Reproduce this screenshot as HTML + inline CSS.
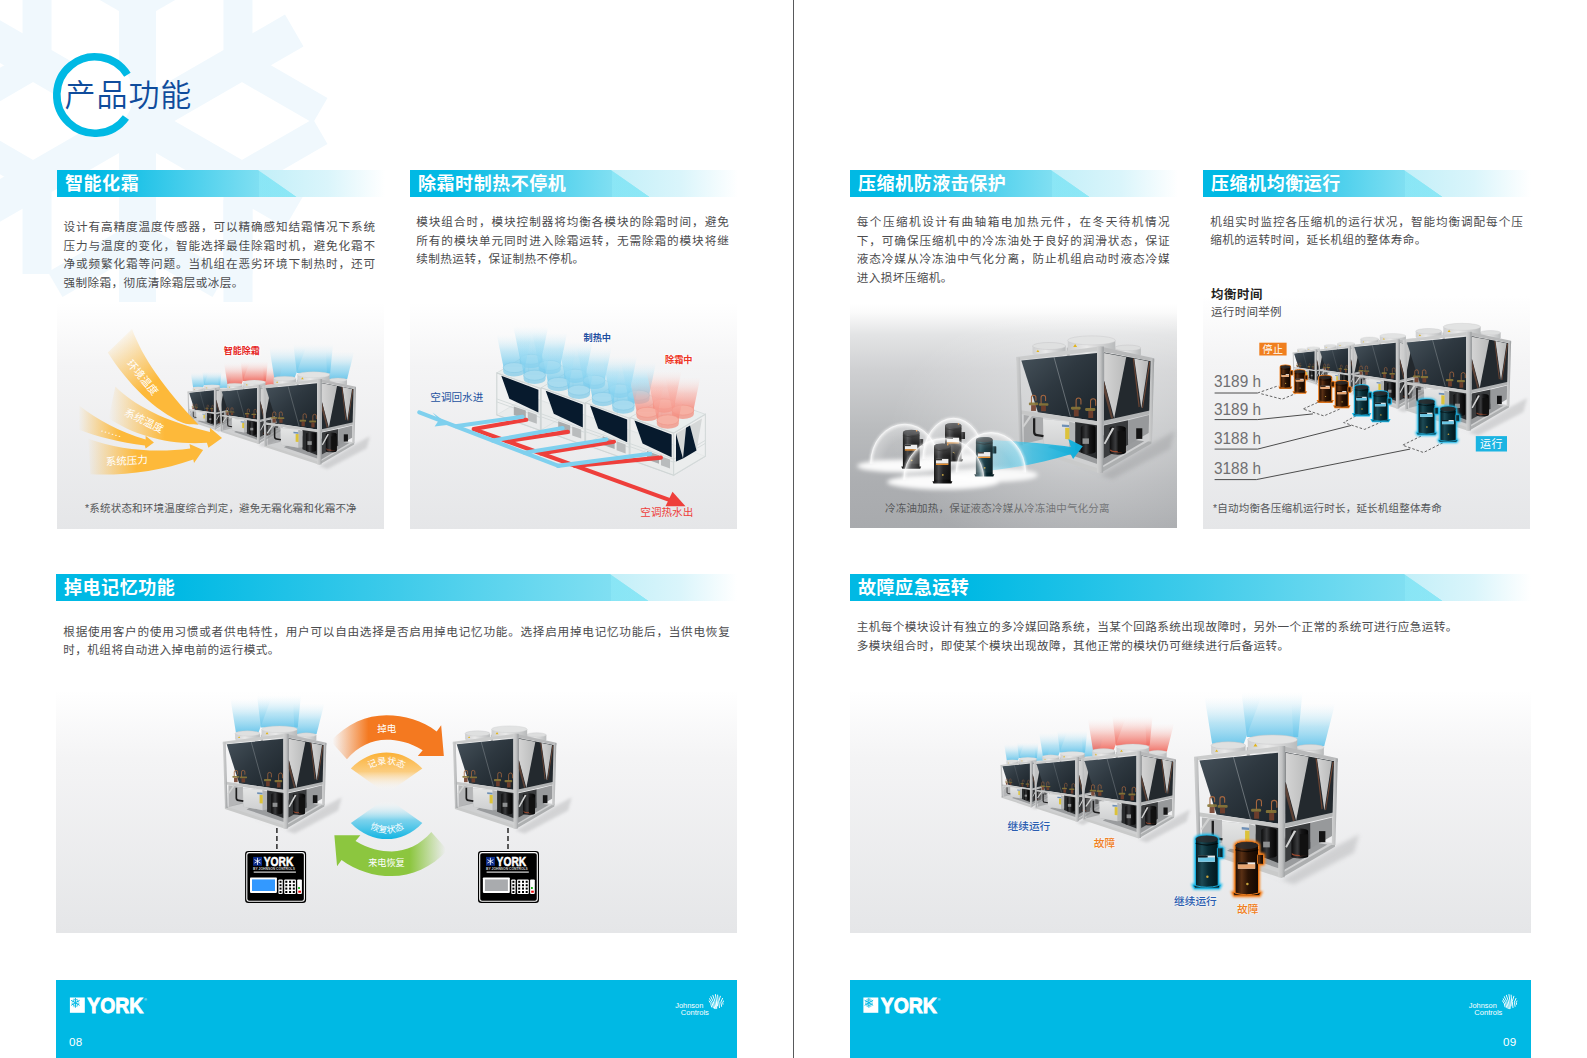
<!DOCTYPE html>
<html lang="zh-CN">
<head>
<meta charset="utf-8">
<title>产品功能</title>
<style>
html,body{margin:0;padding:0;background:#fff;}
body{width:1587px;height:1058px;position:relative;overflow:hidden;
  font-family:"Liberation Sans","Noto Sans CJK SC",sans-serif;color:#4b4b4d;}
.abs{position:absolute;}
#divider{position:absolute;left:793px;top:0;width:1px;height:1058px;background:#58595b;}
.bar{position:absolute;height:27px;}
.bar:before{content:"";position:absolute;left:0;top:0;bottom:0;right:88px;
  background:linear-gradient(to right,rgba(150,238,250,0) calc(100% - 38px),rgba(150,238,250,0.45) calc(100% - 38px)),linear-gradient(to right,#00b9e4 0,#00b9e4 16%,#80dff2 calc(100% - 38px),#86e2f3 100%);
  clip-path:polygon(0 0,calc(100% - 38px) 0,100% 100%,0 100%);}
.bar:after{content:"";position:absolute;top:0;bottom:0;right:0;width:127px;
  background:linear-gradient(to right,#c2eff8 0,#daf5fb 55%,#ffffff 100%);
  clip-path:polygon(0 0,100% 0,100% 100%,39px 100%);}
.bar.wide:before{background:linear-gradient(to right,rgba(150,238,250,0) calc(100% - 38px),rgba(150,238,250,0.4) calc(100% - 38px)),linear-gradient(to right,#00b9e4 0,#00b9e4 20%,#3fcbea 58%,#80dff2 calc(100% - 38px),#86e2f3 100%);}
.bar span{position:absolute;left:8px;top:1.1px;line-height:27px;font-size:18px;font-weight:700;color:#fff;
  letter-spacing:0.55px;z-index:2;white-space:nowrap;}
.txt{position:absolute;font-size:11.6px;line-height:18.63px;color:#4b4b4d;white-space:nowrap;}
.txt div{text-align:justify;text-align-last:justify;}
.txt div.l{text-align-last:left;letter-spacing:0.43px;}
.box{position:absolute;background:linear-gradient(to bottom,#ffffff 0,#f4f4f5 28%,#e5e6e8 100%);}
.box.dark{background:linear-gradient(to bottom,#ffffff 0,#fbfbfb 4%,#e3e4e5 14%,#cfd0d2 30%,#babcbe 55%,#acaeb1 80%,#a8aaad 100%);}
.cap{position:absolute;font-size:10.5px;color:#555759;white-space:nowrap;letter-spacing:0.2px;}
.lbl{position:absolute;white-space:nowrap;font-size:10px;}
.foot{position:absolute;top:980px;height:78px;width:681px;background:#00b9e4;}
.pg{position:absolute;top:1034.6px;font-size:11.6px;color:#fff;letter-spacing:0.2px;}
svg{position:absolute;left:0;top:0;overflow:visible;}
svg text{font-family:"Liberation Sans","Noto Sans CJK SC",sans-serif;}
</style>
</head>
<body>
<svg width="0" height="0" style="position:absolute">
<defs>
<linearGradient id="gCoil" x1="0" y1="0" x2="1" y2="1">
  <stop offset="0" stop-color="#46525b"/><stop offset="0.45" stop-color="#2e3840"/><stop offset="1" stop-color="#1b2329"/>
</linearGradient>
<linearGradient id="gPost" x1="0" y1="0" x2="1" y2="0">
  <stop offset="0" stop-color="#d0d1d1"/><stop offset="0.55" stop-color="#c0c1c2"/><stop offset="1" stop-color="#979a9c"/>
</linearGradient>
<linearGradient id="gFan" x1="0" y1="0" x2="1" y2="0">
  <stop offset="0" stop-color="#cfd0d1"/><stop offset="0.4" stop-color="#e9e9e9"/><stop offset="1" stop-color="#b9bbbc"/>
</linearGradient>
<linearGradient id="gVee" x1="0" y1="0" x2="1" y2="0">
  <stop offset="0" stop-color="#d4d4d4"/><stop offset="1" stop-color="#b9baba"/>
</linearGradient>
<linearGradient id="gBox" x1="0" y1="0" x2="0" y2="1">
  <stop offset="0" stop-color="#e4e5e5"/><stop offset="1" stop-color="#cfd0d1"/>
</linearGradient>
<linearGradient id="gComp" x1="0" y1="0" x2="1" y2="0">
  <stop offset="0" stop-color="#0c0c0d"/><stop offset="0.35" stop-color="#3a3b3d"/><stop offset="0.6" stop-color="#161617"/><stop offset="1" stop-color="#050505"/>
</linearGradient>
<filter id="blur8" x="-30%" y="-30%" width="160%" height="160%"><feGaussianBlur stdDeviation="14"/></filter>
<filter id="blur3" x="-30%" y="-30%" width="160%" height="160%"><feGaussianBlur stdDeviation="5"/></filter>


<linearGradient id="gPlB" x1="0" y1="1" x2="0" y2="0">
  <stop offset="0" stop-color="#62c3ea" stop-opacity="0.9"/><stop offset="0.45" stop-color="#8fd6f1" stop-opacity="0.6"/><stop offset="1" stop-color="#d8f1fb" stop-opacity="0"/>
</linearGradient>
<linearGradient id="gPlR" x1="0" y1="1" x2="0" y2="0">
  <stop offset="0" stop-color="#f0655a" stop-opacity="0.9"/><stop offset="0.45" stop-color="#f59a90" stop-opacity="0.6"/><stop offset="1" stop-color="#fde0dc" stop-opacity="0"/>
</linearGradient>
<symbol id="plB" viewBox="0 0 1120 1058" overflow="visible">
  <g fill="url(#gPlB)">
  <path d="M211 150L400 150L504 -130L166 -130Z"/>
  <path d="M699 165L881 165L946 -91L686 -91Z"/>
  <path d="M419 110L725 110L751 -156L387 -156Z"/>
  </g>
</symbol>
<symbol id="plR" viewBox="0 0 1120 1058" overflow="visible">
  <g fill="url(#gPlR)">
  <path d="M211 150L400 150L504 -130L166 -130Z"/>
  <path d="M699 165L881 165L946 -91L686 -91Z"/>
  <path d="M419 110L725 110L751 -156L387 -156Z"/>
  </g>
</symbol>

<linearGradient id="gFpB" gradientUnits="userSpaceOnUse" x1="0" y1="0" x2="0" y2="-33">
  <stop offset="0" stop-color="#6cc7ec" stop-opacity="0.85"/><stop offset="0.5" stop-color="#9adbf3" stop-opacity="0.55"/><stop offset="1" stop-color="#d8f1fb" stop-opacity="0"/>
</linearGradient>
<linearGradient id="gFpR" gradientUnits="userSpaceOnUse" x1="0" y1="0" x2="0" y2="-33">
  <stop offset="0" stop-color="#f48476" stop-opacity="0.85"/><stop offset="0.5" stop-color="#f8aaa0" stop-opacity="0.55"/><stop offset="1" stop-color="#fde0dc" stop-opacity="0"/>
</linearGradient>
<g id="fanB"><path d="M-10.6 0L10.6 0L17.5 -33L-17.5 -33Z" fill="url(#gFpB)"/><path d="M-11 0v3.8a11 5 0 0 0 22 0v-3.8z" fill="#8fcfe9" opacity="0.85"/><ellipse cx="0" cy="0" rx="11" ry="5" fill="#a9dcf0" stroke="#7cc4e2" stroke-width="0.5" opacity="0.9"/></g>
<g id="fanR"><path d="M-10.6 0L10.6 0L17.5 -33L-17.5 -33Z" fill="url(#gFpR)"/><path d="M-11 0v3.8a11 5 0 0 0 22 0v-3.8z" fill="#f19a8c" opacity="0.85"/><ellipse cx="0" cy="0" rx="11" ry="5" fill="#f7b3a6" stroke="#ee8f80" stroke-width="0.5" opacity="0.9"/></g>
<g id="modBase">
  <path d="M0 0L43.6 15.6L75.4 -3.3L31.8 -18.9Z" fill="#e9eeee" stroke="#cdd4d4" stroke-width="0.6"/>
  <path d="M0 42L31.8 23.1L75.4 38.7L43.6 57.6Z" fill="#e4e7e7" fill-opacity="0.7" stroke="#d3d9d9" stroke-width="0.8"/><path d="M31.8 -18.9V23.1" stroke="#d3d9d9" stroke-width="0.8"/><path d="M0 0L43.6 15.6L43.6 57.6L0 42Z" fill="#eef0f0" fill-opacity="0.35" stroke="#cfd5d5" stroke-width="1.1"/>
  <path d="M0 26L43.6 41.6M0 29L43.6 44.6" stroke="#d3d9d9" stroke-width="0.9" fill="none"/>
  <path d="M17 33.5l12 4.2v8.5l-12-4.2z" fill="#a9acad"/><path d="M31 38.6l9 3.2v9l-9-3.2z" fill="#b9bcbd"/>
  <path d="M4.5 2.9L41.6 16.8L41.6 39.6L12.6 25.9Z" fill="#071a2d"/>
</g>
<g id="modB"><use href="#modBase"/><use href="#fanB" x="34" y="-13.6"/><use href="#fanB" x="52.9" y="-7.5"/><use href="#fanB" x="17.4" y="-5.3"/><use href="#fanB" x="37.8" y="2.3"/></g>
<g id="modR"><use href="#modBase"/><use href="#fanR" x="34" y="-13.6"/><use href="#fanR" x="52.9" y="-7.5"/><use href="#fanR" x="17.4" y="-5.3"/><use href="#fanR" x="37.8" y="2.3"/></g>

<!-- compressor: 16.8 x 39.5 px -->
<linearGradient id="gCmp" x1="0" y1="0" x2="1" y2="0">
  <stop offset="0" stop-color="#060606"/><stop offset="0.28" stop-color="#3c3d3f"/><stop offset="0.55" stop-color="#151516"/><stop offset="1" stop-color="#020202"/>
</linearGradient>
<linearGradient id="gCmpT" x1="0" y1="0" x2="1" y2="0">
  <stop offset="0" stop-color="#041c23"/><stop offset="0.28" stop-color="#1d4a55"/><stop offset="0.55" stop-color="#0a2d36"/><stop offset="1" stop-color="#02161b"/>
</linearGradient>
<linearGradient id="gCmpO" x1="0" y1="0" x2="1" y2="0">
  <stop offset="0" stop-color="#1c0b02"/><stop offset="0.28" stop-color="#5a3014"/><stop offset="0.55" stop-color="#2a1305"/><stop offset="1" stop-color="#120701"/>
</linearGradient>
<filter id="glow" x="-40%" y="-20%" width="180%" height="140%"><feGaussianBlur stdDeviation="0.9"/></filter>
<g id="cmpShape">
  <path d="M-1.6 37.3L18.4 37.3L17.4 39.5L-0.6 39.5Z"/>
  <path d="M0 3.2Q0 0.2 8.4 0.2Q16.8 0.2 16.8 3.2L16.8 37.6Q8.4 40 0 37.6Z"/>
  <rect x="16.2" y="9.5" width="4.2" height="7.2" rx="0.6"/>
</g>
<g id="cmpDeco">
  <ellipse cx="8.4" cy="3" rx="8.3" ry="2.6" fill="#2c2d2f" opacity="0.8"/>
  <path d="M0 6.2Q8.4 8.8 16.8 6.2" stroke="#000" stroke-width="0.8" fill="none" opacity="0.7"/>
  <rect x="2" y="15.3" width="12.4" height="4.6" fill="#ebebeb"/>
  <rect x="2" y="15.3" width="6" height="1.4" fill="#222"/>
  <circle cx="8.8" cy="31" r="0.9" fill="#c7a23a"/>
</g>
<g id="cmp"><use href="#cmpShape" fill="url(#gCmp)"/><use href="#cmpDeco"/><rect x="2" y="19.9" width="12.4" height="1.3" fill="#f08a1c"/><circle cx="13.8" cy="1.3" r="0.8" fill="#f08a1c"/></g>
<g id="cmpT"><use href="#cmpShape" fill="url(#gCmpT)"/><use href="#cmpDeco"/><rect x="2" y="19.9" width="12.4" height="1.3" fill="#f08a1c"/></g>
<g id="cmpB"><use href="#cmpShape" fill="#1bbcec" stroke="#1bbcec" stroke-width="2.2" filter="url(#glow)"/><use href="#cmpShape" fill="url(#gCmpT)" stroke="#19b4e4" stroke-width="0.7"/><use href="#cmpDeco"/><rect x="2" y="16.6" width="12.4" height="3.2" fill="#6cc6e4"/><rect x="2" y="15.3" width="7" height="1.4" fill="#0c1c22"/></g>
<g id="cmpO"><use href="#cmpShape" fill="#f58220" stroke="#f58220" stroke-width="2.2" filter="url(#glow)"/><use href="#cmpShape" fill="url(#gCmpO)" stroke="#ef7d1c" stroke-width="0.7"/><use href="#cmpDeco"/><rect x="2" y="16.6" width="12.4" height="3.2" fill="#e8a672"/><rect x="2" y="15.3" width="7" height="1.4" fill="#1c0e06"/></g>

<!-- controller 61 x 52 -->
<g id="ctrl">
  <rect x="0" y="0" width="61" height="52" rx="3.2" fill="#000"/>
  <rect x="1.7" y="1.7" width="57.6" height="48.6" rx="2.4" fill="none" stroke="#fff" stroke-width="1.1"/>
  <rect x="8" y="6" width="8.9" height="8.9" fill="#0c2d8c"/>
  <g stroke="#fff" stroke-width="0.8" stroke-linecap="round"><path d="M12.4 7.3v6.3M9.7 8.9l5.4 3.1M9.7 12l5.4-3.1"/></g>
  <text x="18.6" y="14.9" font-size="12.4" font-weight="700" fill="#fff" textLength="29.6" lengthAdjust="spacingAndGlyphs" stroke="#fff" stroke-width="0.5">YORK</text>
  <text x="8" y="19.2" font-size="3.1" font-weight="700" fill="#cfcfcf" textLength="41.8" lengthAdjust="spacingAndGlyphs">BY JOHNSON CONTROLS</text>
  <rect x="8.6" y="20.4" width="42.2" height="1.7" fill="#9b9b9b"/>
  <rect x="4.9" y="26.5" width="26.9" height="15.5" rx="0.8" fill="#fff"/>
  <rect x="33.3" y="28.5" width="4.3" height="14.5" rx="0.9" fill="#fff"/>
  <rect x="39.1" y="28.5" width="11.7" height="14.5" rx="0.9" fill="#fff"/>
  <rect x="52.1" y="28.5" width="4.7" height="14.5" rx="0.9" fill="#fff"/>
  <g fill="#000">
    <rect x="34.4" y="29.9" width="2" height="2"/><rect x="34.4" y="33.3" width="2" height="2"/><rect x="34.4" y="36.7" width="2" height="2"/><rect x="34.4" y="40.1" width="2" height="2"/>
    <rect x="40.2" y="29.9" width="2" height="2"/><rect x="40.2" y="33.3" width="2" height="2"/><rect x="40.2" y="36.7" width="2" height="2"/><rect x="40.2" y="40.1" width="2" height="2"/>
    <rect x="44" y="29.9" width="2" height="2"/><rect x="44" y="33.3" width="2" height="2"/><rect x="44" y="36.7" width="2" height="2"/><rect x="44" y="40.1" width="2" height="2"/>
    <rect x="47.7" y="29.9" width="2" height="2"/><rect x="47.7" y="33.3" width="2" height="2"/><rect x="47.7" y="36.7" width="2" height="2"/><rect x="47.7" y="40.1" width="2" height="2"/>
  </g>
  <rect x="53" y="36.2" width="1.8" height="1.8" fill="#0a0"/><rect x="53.2" y="39.8" width="2.6" height="2" fill="#e00"/>
</g>

<!-- footer logos (origin = left page coords) -->
<clipPath id="jcClip"><circle cx="0" cy="0" r="7.8"/></clipPath>
<g id="yorkLogo">
  <rect x="69.9" y="997.5" width="14.9" height="15.3" fill="#fff"/>
  <g stroke="#00b9e4" stroke-width="1" stroke-linecap="round" fill="none">
    <path d="M75.4 998.3v9M71.5 1000.5l7.8 4.6M71.5 1005.1l7.8-4.6"/>
    <path d="M74 999.2l1.4 1.3 1.4-1.3M74 1006.4l1.4-1.3 1.4 1.3M72 1002l1.9-.4-.5-1.9M78.9 1003.7l-1.9.4.5 1.9M72 1003.7l1.9.4-.5 1.9M78.9 1002l-1.9-.4.5-1.9" stroke-width="0.7"/>
  </g>
  <text x="87.2" y="1012.6" font-size="21.4" font-weight="700" fill="#fff" stroke="#fff" stroke-width="0.9" textLength="56.2" lengthAdjust="spacingAndGlyphs">YORK</text>
  <text x="144.3" y="1001.2" font-size="3.6" fill="#fff">®</text>
</g>
<g id="jcLogo" fill="#fff">
  <text x="675.3" y="1007.9" font-size="8.1" textLength="28" lengthAdjust="spacingAndGlyphs">Johnson</text>
  <text x="680.8" y="1015.1" font-size="8.1" textLength="28.1" lengthAdjust="spacingAndGlyphs">Controls</text>
  <g transform="translate(716.3,1001.8)" clip-path="url(#jcClip)">
    <g fill="none" stroke="#fff" stroke-width="0.95">
      <path d="M-7.8 -1.6Q-5 1 -4.6 5.6"/><path d="M-7.4 -4Q-3.6 0 -2.8 6.4"/><path d="M-6 -6Q-2.2 -1 -1.5 7.2"/><path d="M-3.8 -7.4Q-0.8 -1.5 -0.4 7.4"/>
      <path d="M-1 -8Q0.6 -1 0.4 7"/><path d="M1.3 -7.2Q2.2 -2 1.1 4.6"/>
      <path d="M4.2 -6Q1.2 -0.6 3.2 6.2"/><path d="M6.4 -3.8Q3.2 0.2 5.4 5"/><path d="M7.6 -1.4Q5.6 0.6 6.9 3"/>
    </g>
  </g>
</g>
<!-- chiller unit; coordinates are 6.222x real px of the largest instance -->
<symbol id="unit" viewBox="0 0 1120 1058" overflow="visible">
  <!-- ground shadow -->
  <path d="M150 800L625 965L960 760L1090 690L1060 800L700 990Z" fill="#6f7173" opacity="0.22" filter="url(#blur8)"/>
  <!-- floor -->
  <path d="M130 772L470 680L940 745L625 940Z" fill="#cfd0d1"/>
  <path d="M470 690L900 752L640 905L300 790Z" fill="#9a9c9e"/>
  <!-- back posts / rails -->
  <path d="M418 170h18v420h-18z" fill="#b9babb"/>
  <!-- fans -->
  <path d="M205 160v45a103 22 0 0 0 206 0v-45z" fill="url(#gFan)"/>
  <ellipse cx="308" cy="160" rx="103" ry="22" fill="#dfe0e0" stroke="#c4c5c6" stroke-width="3"/>
  <path d="M715 172v42a82 18 0 0 0 164 0v-42z" fill="url(#gFan)"/>
  <ellipse cx="797" cy="172" rx="82" ry="18" fill="#dddede" stroke="#c4c5c6" stroke-width="3"/>
  <path d="M424 125v62a148 28 0 0 0 296 0v-62z" fill="url(#gFan)"/>
  <ellipse cx="572" cy="125" rx="148" ry="28" fill="#e2e3e3" stroke="#c8c9ca" stroke-width="3"/>
  <path d="M470 148l12 18h-24z M238 184l9 14h-18z" fill="#e2b41c"/>
  <!-- interior dark (lower section) -->
  <path d="M470 625L625 645L625 870L470 810Z" fill="#2a2c2e"/><path d="M648 655L800 622L800 775L648 858Z" fill="#3a3c3e"/><path d="M800 622L930 590L930 700L800 775Z" fill="#97999b"/>
  <path d="M150 590L270 605L270 740L150 770Z" fill="#8d8f91" opacity="0.6"/>
  <!-- right face: white vee plates and dark coils -->
  <path d="M648 200L945 255L945 570L648 640Z" fill="#23292e"/>
  <path d="M650 203L788 228L713 610L650 375Z" fill="url(#gVee)"/>
  <path d="M838 238L926 255L882 548Z" fill="url(#gVee)"/>
  <path d="M650 378L706 608L694 613L650 450Z" fill="#5d4236"/>
  <path d="M829 236l7 2 36 300-7 3z M931 257l7 2-46 288-6-2z" fill="#6e4634"/>
  <!-- front coil -->
  <path d="M135 250L606 203L606 628L238 572Z" fill="url(#gCoil)"/>
  <path d="M338 228L440 598" stroke="#aab0b4" stroke-width="3" fill="none"/>
  <!-- copper valves -->
  <g fill="none" stroke="#a5663f" stroke-width="6.5">
    <path d="M198 520v-40a14 14 0 0 1 28 0v20"/><path d="M258 522v-42a14 14 0 0 1 28 0v22"/>
    <path d="M476 548v-50a15 15 0 0 1 30 0v26"/><path d="M566 556v-52a16 16 0 0 1 32 0v28"/>
  </g>
  <g fill="#8a7838" opacity="0.9">
    <rect x="182" y="512" width="58" height="16" rx="6"/><rect x="244" y="516" width="60" height="16" rx="6"/>
    <rect x="444" y="538" width="60" height="18" rx="7"/><rect x="532" y="546" width="64" height="18" rx="7"/>
  </g>
  <g fill="#74402c" opacity="0.9">
    <rect x="196" y="528" width="30" height="36"/><rect x="258" y="532" width="30" height="34"/>
    <rect x="462" y="556" width="30" height="42"/><rect x="552" y="564" width="30" height="44"/>
  </g>
  <!-- control box -->
  <path d="M270 615L432 630L470 640L470 790L432 796L275 768Z" fill="#b4b6b7"/>
  <path d="M270 615L432 630L432 796L275 768Z" fill="url(#gBox)"/>
  <path d="M408 668l26 2v72l-26-3z" fill="#dcc23a"/>
  <path d="M388 648l44 4v14l-44-4z" fill="#6d8fb6"/>
  <path d="M215 610v85q0 18 18 20l40 6" stroke="#1d1d1e" stroke-width="14" fill="none"/>
  <!-- compressors -->
  <path d="M505 668a46 16 0 0 1 92 0v150a46 14 0 0 1-92 0z" fill="url(#gComp)"/>
  <rect x="516" y="735" width="40" height="34" fill="#8e9091"/>
  <path d="M685 672a50 16 0 0 1 100 0v150a50 14 0 0 1-100 0z" fill="url(#gComp)"/>
  <path d="M690 806a46 12 0 0 0 92 0" stroke="#9c4a30" stroke-width="8" fill="none"/>
  <path d="M735 690h50v130h-50z" fill="#111"/>
  <rect x="850" y="672" width="38" height="66" fill="#141415"/>
  <!-- braces -->
  <path d="M190 588l14 4-52 74-10-6z M700 668l14 4-56 100-10-6z" fill="#d0d1d1"/>
  <!-- bottom rails -->
  <path d="M120 762L625 925L625 952L120 786Z" fill="#c9caca"/>
  <path d="M625 925L945 742L945 766L625 952Z" fill="#adafb0"/>
  <!-- mid rails -->
  <path d="M118 558L625 630L625 656L118 582Z" fill="#c6c7c7"/>
  <path d="M625 630L948 558L948 582L625 656Z" fill="#b1b3b4"/>
  <!-- top rails -->
  <path d="M103 228L625 163L625 190L103 250Z" fill="#cbcccc"/>
  <path d="M625 163L962 236L962 258L625 190Z" fill="#b8b9ba"/>
  <!-- posts -->
  <path d="M103 232h24l16 546h-22z" fill="url(#gPost)"/>
  <path d="M940 240h22l-14 515h-22z" fill="url(#gPost)"/>
  <path d="M606 163h42l-4 785h-38z" fill="url(#gPost)"/>
</symbol>
</defs>
</svg>
<!-- ================= LEFT PAGE ================= -->
<svg id="flake" width="420" height="302" viewBox="0 0 420 302" style="overflow:hidden"><g fill="#f0f8fd"><g transform="translate(137.5,121.0)"><g transform="rotate(-90)"><rect x="0" y="-18.5" width="181" height="37"/><g transform="translate(116,0) rotate(-60)"><rect x="0" y="-14.5" width="95" height="29"/></g><g transform="translate(116,0) rotate(60)"><rect x="0" y="-14.5" width="95" height="29"/></g></g><g transform="rotate(-30)"><rect x="0" y="-18.5" width="181" height="37"/><g transform="translate(116,0) rotate(-60)"><rect x="0" y="-14.5" width="95" height="29"/></g><g transform="translate(116,0) rotate(60)"><rect x="0" y="-14.5" width="95" height="29"/></g></g><g transform="rotate(30)"><rect x="0" y="-18.5" width="181" height="37"/><g transform="translate(116,0) rotate(-60)"><rect x="0" y="-14.5" width="95" height="29"/></g><g transform="translate(116,0) rotate(60)"><rect x="0" y="-14.5" width="95" height="29"/></g></g><g transform="rotate(90)"><rect x="0" y="-18.5" width="181" height="37"/><g transform="translate(116,0) rotate(-60)"><rect x="0" y="-14.5" width="95" height="29"/></g><g transform="translate(116,0) rotate(60)"><rect x="0" y="-14.5" width="95" height="29"/></g></g><g transform="rotate(150)"><rect x="0" y="-18.5" width="181" height="37"/><g transform="translate(116,0) rotate(-60)"><rect x="0" y="-14.5" width="95" height="29"/></g><g transform="translate(116,0) rotate(60)"><rect x="0" y="-14.5" width="95" height="29"/></g></g><g transform="rotate(210)"><rect x="0" y="-18.5" width="181" height="37"/><g transform="translate(116,0) rotate(-60)"><rect x="0" y="-14.5" width="95" height="29"/></g><g transform="translate(116,0) rotate(60)"><rect x="0" y="-14.5" width="95" height="29"/></g></g></g><rect x="223.5" y="200" width="29" height="102"/></g></svg>
<svg id="titlec" width="200" height="160" viewBox="0 0 200 160">
  <circle cx="95" cy="95" r="38.2" fill="#fff"/>
  <path d="M127.4 74.8A38.2 38.2 0 1 0 125.9 117.5" fill="none" stroke="#00b9e4" stroke-width="7.6"/>
</svg>
<div class="abs" style="left:64.6px;top:72.8px;font-size:31px;line-height:46px;font-weight:350;color:#0f4c9c;letter-spacing:0.9px;white-space:nowrap;">产品功能</div>

<div class="bar" style="left:57px;top:170px;width:328px;"><span>智能化霜</span></div>
<div class="txt" style="left:63.5px;top:218.1px;width:311.5px;line-height:18.67px;">
<div>设计有高精度温度传感器，可以精确感知结霜情况下系统</div>
<div>压力与温度的变化，智能选择最佳除霜时机，避免化霜不</div>
<div>净或频繁化霜等问题。当机组在恶劣环境下制热时，还可</div>
<div class="l">强制除霜，彻底清除霜层或冰层。</div>
</div>
<div class="box" style="left:57px;top:303px;width:327px;height:226px;"></div>
<div class="cap" style="left:85px;top:500px;">*系统状态和环境温度综合判定，避免无霜化霜和化霜不净</div>

<div class="bar" style="left:410px;top:170px;width:328px;"><span>除霜时制热不停机</span></div>
<div class="txt" style="left:416.3px;top:213.4px;width:312.5px;line-height:18.5px;">
<div>模块组合时，模块控制器将均衡各模块的除霜时间，避免</div>
<div>所有的模块单元同时进入除霜运转，无需除霜的模块将继</div>
<div class="l">续制热运转，保证制热不停机。</div>
</div>
<div class="box" style="left:410px;top:303px;width:327px;height:226px;"></div>

<div class="bar wide" style="left:56px;top:574px;width:681px;"><span>掉电记忆功能</span></div>
<div class="txt" style="left:63.3px;top:622.8px;width:666.5px;line-height:18.1px;">
<div>根据使用客户的使用习惯或者供电特性，用户可以自由选择是否启用掉电记忆功能。选择启用掉电记忆功能后，当供电恢复</div>
<div class="l">时，机组将自动进入掉电前的运行模式。</div>
</div>
<div class="box" style="left:56px;top:690px;width:681px;height:243px;"></div>


<svg id="ill-l" width="1587" height="1058" viewBox="0 0 1587 1058">
<defs>
<linearGradient id="gA1" gradientUnits="userSpaceOnUse" x1="300" y1="110" x2="640" y2="520"><stop offset="0" stop-color="#fdb93a" stop-opacity="0"/><stop offset="0.75" stop-color="#fdb93a"/></linearGradient>
<linearGradient id="gA2" gradientUnits="userSpaceOnUse" x1="255" y1="0" x2="720" y2="0"><stop offset="0" stop-color="#fdb93a" stop-opacity="0"/><stop offset="0.8" stop-color="#fdb93a"/></linearGradient>
<linearGradient id="gA3" gradientUnits="userSpaceOnUse" x1="55" y1="0" x2="400" y2="0"><stop offset="0" stop-color="#fdb93a" stop-opacity="0"/><stop offset="0.8" stop-color="#fdb93a"/></linearGradient>
<linearGradient id="gA4" gradientUnits="userSpaceOnUse" x1="115" y1="0" x2="520" y2="0"><stop offset="0" stop-color="#fdb93a" stop-opacity="0"/><stop offset="0.8" stop-color="#fdb93a"/></linearGradient>
</defs>
<!-- image 1 : smart defrost -->
<g id="img1">
<use href="#plB" x="182.0" y="379.5" width="59.0" height="55.8"/><use href="#unit" x="182.0" y="379.5" width="59.0" height="55.8"/>
<use href="#plR" x="211.6" y="372.8" width="83.9" height="79.2"/><use href="#unit" x="211.6" y="372.8" width="83.9" height="79.2"/>
<use href="#plB" x="251.2" y="361.1" width="122.0" height="115.3"/><use href="#unit" x="251.2" y="361.1" width="122.0" height="115.3"/>

<g transform="translate(70,320) scale(0.15126)">
  <path d="M410 60C480 250 620 450 850 692C800 692 770 690 745 680C560 600 380 420 250 215Z" fill="url(#gA1)"/>
  <path d="M300 440C420 560 620 670 925 740L925 712L1005 780L915 845L905 812C650 830 420 760 255 650Z" fill="url(#gA2)"/>
  <path d="M60 565C180 660 330 740 500 790L500 765L555 810L500 850L495 830C330 810 180 770 60 725Z" fill="url(#gA3)"/>
  <path d="M120 785C330 860 560 880 795 850L790 820L880 860L820 945L815 922C600 1000 350 1030 135 1020Z" fill="url(#gA4)"/>
</g>
<g fill="#fff" font-size="10.5" text-anchor="middle">
  <text transform="translate(142.5,377.5) rotate(50)" y="3.7">环境温度</text>
  <text transform="translate(144,420.6) rotate(26)" y="3.7">系统温度</text>
  <text transform="translate(111.5,432.5) rotate(17)" y="2" font-size="11" letter-spacing="0.6">......</text>
  <text transform="translate(126.7,460.7) rotate(-3)" y="3.7">系统压力</text>
</g>
<text x="241.8" y="354.2" font-size="9" font-weight="700" fill="#e6251f" text-anchor="middle" stroke="#fff" stroke-width="2" paint-order="stroke" stroke-opacity="0.8">智能除霜</text>
</g>
<!-- image 2 : modules with pipes -->
<g id="img2">
<use href="#modB" x="496.8" y="372.9"/>
<use href="#modB" x="541.2" y="387.8"/>
<use href="#modB" x="585.6" y="402.7"/>
<use href="#modR" x="630.0" y="417.6"/>
<g transform="translate(630.0,417.6)"><path d="M43.6 15.6L75.4 -3.3L75.4 38.7L43.6 57.6Z" fill="#eef0f0" fill-opacity="0.6" stroke="#d3d9d9" stroke-width="1.1"/>
<path d="M43.6 41.6L75.4 22.7M43.6 44.6L75.4 25.7" stroke="#d3d9d9" stroke-width="0.9"/>
<path d="M46 16L56 10.2L53 41Z M60 7.8L72 0.8L66.5 33Z" fill="#d5d8d8"/>
<path d="M56 10.2L60 7.8L66.5 33L53 41Z M46 16L53 41L46 44Z" fill="#071a2d"/>
</g>
<g fill="none" stroke-width="4.1" stroke-linecap="round">
<g stroke="#ee3f3b">
<path d="M473.7 429.1L526.3 419.8"/><path d="M506.4 441.1L567.9 431.9"/><path d="M540.7 453.5L614 441.7"/><path d="M574.9 465.9L660.9 457.6"/>
<path d="M473.7 429.1L672 500.9" stroke-linecap="butt"/>
</g>
<g stroke="#7fd0ee">
<path d="M455.4 426.2L522.5 416.8"/><path d="M492.9 440.6L562.6 428.1"/><path d="M524.5 452.7L606.4 439.4"/><path d="M557.9 465.9L650.3 453.8"/>
<path d="M419.3 412.3L558.5 465.9"/>
</g></g>
<path d="M685.5 506.3L665.5 506.3L672.5 491.8Z" fill="#ee3f3b"/>
<path d="M449 424.8L434.6 426.6L439 420L432.6 412.6Z" fill="#7fd0ee"/>
<g font-size="10.6" letter-spacing="0">
<text x="430.3" y="401.3" fill="#2452a0">空调回水进</text>
<text x="640.3" y="515.7" fill="#ee3f3b">空调热水出</text>
</g>
<g font-size="9.2" font-weight="700" stroke="#fff" stroke-width="1.6" paint-order="stroke" stroke-opacity="0.7">
<text x="583.5" y="341.3" fill="#1f4fa0">制热中</text>
<text x="665" y="363" fill="#ee3322">除霜中</text>
</g>
</g>
<!-- image 3 : power-loss memory -->
<g id="img3">
<use href="#plB" x="210.4" y="714.2" width="135.0" height="127.5"/><use href="#unit" x="210.4" y="714.2" width="135.0" height="127.5"/>
<use href="#unit" x="440.4" y="714.2" width="135.0" height="127.5"/>
<path d="M276.9 828V851M508 828V851" stroke="#1a1a1a" stroke-width="1.4" stroke-dasharray="5 3" fill="none"/>
<use href="#ctrl" x="245.1" y="850.9"/><rect x="252" y="879.4" width="23" height="11.6" fill="#3399ff"/>
<use href="#ctrl" x="478" y="850.9"/><rect x="484.9" y="879.4" width="23" height="11.6" fill="#a9abae"/>
<defs>
<linearGradient id="gOr" gradientUnits="userSpaceOnUse" x1="70" y1="0" x2="270" y2="0"><stop offset="0" stop-color="#f47920" stop-opacity="0"/><stop offset="1" stop-color="#f47920"/></linearGradient>
<linearGradient id="gYe" gradientUnits="userSpaceOnUse" x1="0" y1="292" x2="0" y2="505"><stop offset="0" stop-color="#fbb034"/><stop offset="0.5" stop-color="#fcc871" stop-opacity="0.9"/><stop offset="1" stop-color="#ffffff" stop-opacity="0"/></linearGradient>
<linearGradient id="gGr" gradientUnits="userSpaceOnUse" x1="70" y1="0" x2="270" y2="0"><stop offset="0" stop-color="#8cc63f" stop-opacity="0"/><stop offset="1" stop-color="#8cc63f"/></linearGradient>
<linearGradient id="gBl" gradientUnits="userSpaceOnUse" x1="0" y1="292" x2="0" y2="505"><stop offset="0" stop-color="#12b4e2"/><stop offset="0.5" stop-color="#6fcfec" stop-opacity="0.9"/><stop offset="1" stop-color="#ffffff" stop-opacity="0"/></linearGradient>
<path id="arcT" d="M236 413A190 190 0 0 1 506 413"/>
<path id="arcB" d="M240 686A190 190 0 0 0 506 686"/>
<g id="halfA">
  <path d="M60 230C150 130 260 85 370 85C470 85 570 115 650 175L675 140L690 312L545 312L572 280C500 235 430 222 370 222C290 222 210 260 150 330Z"/>
</g>
</defs>
<g transform="translate(320,700) scale(0.1795)">
  <use href="#halfA" fill="url(#gOr)"/>
  <path d="M172 382C230 320 300 292 370 292C440 292 510 320 570 382L400 502Q370 522 340 502Z" fill="url(#gYe)"/>
  <g transform="rotate(180 385 533)"><use href="#halfA" fill="url(#gGr)"/></g>
  <g transform="rotate(180 371 533.5)"><path d="M172 382C230 320 300 292 370 292C440 292 510 320 570 382L400 502Q370 522 340 502Z" fill="url(#gBl)"/></g>
  <g fill="#fff" font-size="53" text-anchor="middle">
    <text x="372" y="181">掉电</text>
    <text x="370" y="924" font-size="51">来电恢复</text>
    <text font-size="50"><textPath href="#arcT" startOffset="50%">记录状态</textPath></text>
    <text font-size="50"><textPath href="#arcB" startOffset="50%">恢复状态</textPath></text>
  </g>
</g>
</g>
</svg>
<div class="foot" style="left:56px;"></div>
<svg width="1587" height="1058" viewBox="0 0 1587 1058"><use href="#yorkLogo"/><use href="#jcLogo"/></svg>
<div class="pg" style="left:69px;">08</div>
<div id="divider"></div>
<!-- ================= RIGHT PAGE ================= -->
<div class="bar" style="left:850px;top:170px;width:328px;"><span>压缩机防液击保护</span></div>
<div class="txt" style="left:856.7px;top:213.2px;width:313px;">
<div>每个压缩机设计有曲轴箱电加热元件，在冬天待机情况</div>
<div>下，可确保压缩机中的冷冻油处于良好的润滑状态，保证</div>
<div>液态冷媒从冷冻油中气化分离，防止机组启动时液态冷媒</div>
<div class="l">进入损坏压缩机。</div>
</div>
<div class="box dark" style="left:850px;top:303px;width:327px;height:224.6px;"></div>
<div class="cap" style="left:885px;top:500px;">冷冻油加热，保证液态冷媒从冷冻油中气化分离</div>

<div class="bar" style="left:1203px;top:170px;width:328px;"><span>压缩机均衡运行</span></div>
<div class="txt" style="left:1210.3px;top:212.8px;width:312.5px;line-height:18.3px;">
<div>机组实时监控各压缩机的运行状况，智能均衡调配每个压</div>
<div class="l">缩机的运转时间，延长机组的整体寿命。</div>
</div>
<div class="box" style="left:1203px;top:296px;width:327px;height:232.5px;"></div>
<div class="abs" style="left:1211px;top:285.6px;font-size:12.4px;font-weight:700;color:#231f20;line-height:18px;letter-spacing:0.6px;white-space:nowrap;">均衡时间</div>
<div class="abs" style="left:1211px;top:302.7px;font-size:11.5px;color:#4b4b4d;line-height:18px;letter-spacing:0.32px;white-space:nowrap;">运行时间举例</div>
<div class="cap" style="left:1213px;top:500px;">*自动均衡各压缩机运行时长，延长机组整体寿命</div>

<div class="bar wide" style="left:850px;top:574px;width:681px;"><span>故障应急运转</span></div>
<div class="txt" style="left:856.7px;top:616.7px;width:600px;line-height:19px;">
<div class="l">主机每个模块设计有独立的多冷媒回路系统，当某个回路系统出现故障时，另外一个正常的系统可进行应急运转。</div>
<div class="l">多模块组合时，即使某个模块出现故障，其他正常的模块仍可继续进行后备运转。</div>
</div>
<div class="box" style="left:850px;top:690px;width:681px;height:243px;"></div>

<div class="foot" style="left:850px;"></div>
<svg width="1587" height="1058" viewBox="0 0 1587 1058"><use href="#yorkLogo" x="793.5"/><use href="#jcLogo" x="793.5"/></svg>
<div class="pg" style="left:1503px;">09</div>

<svg id="ill-r" width="1587" height="1058" viewBox="0 0 1587 1058">
<defs>
<radialGradient id="gDome" cx="0.5" cy="1" r="0.5" fx="0.5" fy="1" gradientTransform="translate(0,1) scale(1,2) translate(0,-1)"><stop offset="0" stop-color="#fff" stop-opacity="0.04"/><stop offset="0.6" stop-color="#fff" stop-opacity="0.1"/><stop offset="0.88" stop-color="#fff" stop-opacity="0.3"/><stop offset="1" stop-color="#fff" stop-opacity="0.6"/></radialGradient>
<filter id="blurD" x="-10%" y="-10%" width="120%" height="120%"><feGaussianBlur stdDeviation="1.1"/></filter>
<linearGradient id="gAr" gradientUnits="userSpaceOnUse" x1="990" y1="0" x2="1075" y2="0"><stop offset="0" stop-color="#6fd3ef" stop-opacity="0.45"/><stop offset="0.5" stop-color="#2fbde4" stop-opacity="0.8"/><stop offset="1" stop-color="#10afdc" stop-opacity="0.97"/></linearGradient>
<radialGradient id="gLite" cx="0.72" cy="0.55" r="0.6"><stop offset="0" stop-color="#fff" stop-opacity="0.45"/><stop offset="1" stop-color="#fff" stop-opacity="0"/></radialGradient>
<filter id="blur3g" x="-20%" y="-100%" width="140%" height="300%"><feGaussianBlur stdDeviation="2.2"/></filter>
</defs>
<!-- image 4 : crankcase heater -->
<g id="img4">
<rect x="850" y="310" width="327" height="218" fill="url(#gLite)"/>
<use href="#unit" x="999.6" y="320.3" width="180.0" height="170.0"/>
<g fill="#fff" filter="url(#blur3g)">
<ellipse cx="903" cy="466" rx="46" ry="6.5" opacity="0.95"/><ellipse cx="955" cy="459" rx="36" ry="5" opacity="0.8"/>
<ellipse cx="943" cy="482" rx="56" ry="7.5" opacity="0.95"/><ellipse cx="992" cy="475" rx="46" ry="7" opacity="0.9"/>
</g>
<use href="#cmp" transform="translate(902.9,429.5) scale(0.994,0.995)"/>
<use href="#cmp" transform="translate(945.0,422.7) scale(0.982,0.982)"/>
<path d="M870.6 463.7A34.1 39.5 0 0 1 938.8 463.7Z" fill="url(#gDome)"/><path d="M870.6 463.7A34.1 39.5 0 0 1 938.8 463.7" fill="none" stroke="#fff" stroke-width="2.6" opacity="0.55" filter="url(#blurD)"/><path d="M870.6 463.7A34.1 39.5 0 0 1 938.8 463.7" fill="none" stroke="#fff" stroke-opacity="0.8" stroke-width="0.8"/>
<path d="M922.9 458.9A30.5 40.7 0 0 1 983.9 458.9Z" fill="url(#gDome)"/><path d="M922.9 458.9A30.5 40.7 0 0 1 983.9 458.9" fill="none" stroke="#fff" stroke-width="2.6" opacity="0.55" filter="url(#blurD)"/><path d="M922.9 458.9A30.5 40.7 0 0 1 983.9 458.9" fill="none" stroke="#fff" stroke-opacity="0.8" stroke-width="0.8"/>
<path d="M990 440C1012 441 1045 443 1070.7 447L1068.3 438.9L1082.8 446.2L1073.1 459L1070.7 454.2C1045 462 1015 468 990 470.5Z" fill="url(#gAr)"/>
<use href="#cmpT" transform="translate(975.9,436.7) scale(1.000,1.005)"/>
<path d="M956.2 472.6A34.7 40.1 0 0 1 1025.6 472.6Z" fill="url(#gDome)"/><path d="M956.2 472.6A34.7 40.1 0 0 1 1025.6 472.6" fill="none" stroke="#fff" stroke-width="2.6" opacity="0.55" filter="url(#blurD)"/><path d="M956.2 472.6A34.7 40.1 0 0 1 1025.6 472.6" fill="none" stroke="#fff" stroke-opacity="0.8" stroke-width="0.8"/>
<use href="#cmp" transform="translate(934.0,443.3) scale(1.000,1.020)"/>
<path d="M903.7 479.8A40.1 41.3 0 0 1 983.9 479.8Z" fill="url(#gDome)"/><path d="M903.7 479.8A40.1 41.3 0 0 1 983.9 479.8" fill="none" stroke="#fff" stroke-width="2.6" opacity="0.55" filter="url(#blurD)"/><path d="M903.7 479.8A40.1 41.3 0 0 1 983.9 479.8" fill="none" stroke="#fff" stroke-opacity="0.8" stroke-width="0.8"/>
</g>
<!-- image 5 : balanced running -->
<g id="img5">
<use href="#unit" x="1288.1" y="342.4" width="49.3" height="46.6"/>
<use href="#unit" x="1311.9" y="336.2" width="67.0" height="63.2"/>
<use href="#unit" x="1342.4" y="324.9" width="98.8" height="93.3"/>
<use href="#unit" x="1389.9" y="311.1" width="141.1" height="133.3"/>
<g fill="none" stroke="#3a3a3a" stroke-width="0.9">
<path d="M1214.6 393H1257.6"/><path d="M1214.6 419.6H1257.6L1312.9 413.9"/><path d="M1214.6 449.1H1257.6L1351 425.5"/><path d="M1214.6 479.6H1256.4L1410 449.1"/>
<g stroke-dasharray="2.6 1.8" stroke="#555">
<path d="M1257.6 393L1278.5 385.7M1261.3 393.8L1282.2 399.2L1295.7 393.5"/>
<path d="M1317.8 402.4L1303 409L1323.9 415.9L1339.9 409"/>
<path d="M1355.9 415.9L1343.6 422.5L1364.5 429.4L1381.7 421.8"/>
<path d="M1421 436.1L1402.6 445.2L1423.5 452.5L1443.1 442.7"/>
</g></g>
<use href="#cmpO" transform="translate(1280.3,365.1) scale(0.607,0.590)"/>
<use href="#cmpO" transform="translate(1294.5,369.7) scale(0.631,0.592)"/>
<use href="#cmpO" transform="translate(1319.0,375.3) scale(0.744,0.684)"/>
<use href="#cmpO" transform="translate(1335.5,380.6) scale(0.750,0.684)"/>
<use href="#cmpB" transform="translate(1354.7,384.9) scale(0.827,0.777)"/>
<use href="#cmpB" transform="translate(1373.2,390.9) scale(0.869,0.775)"/>
<use href="#cmpB" transform="translate(1418.2,398.8) scale(0.988,0.911)"/>
<use href="#cmpB" transform="translate(1440.1,406.1) scale(0.946,0.909)"/>
<g font-size="16.5" fill="#6f6f71" font-weight="300" style="font-family:'Noto Sans CJK SC','Liberation Sans',sans-serif">
<text x="1214" y="386.9" textLength="47" lengthAdjust="spacingAndGlyphs">3189 h</text>
<text x="1214" y="415.2" textLength="47" lengthAdjust="spacingAndGlyphs">3189 h</text>
<text x="1214" y="444.2" textLength="47" lengthAdjust="spacingAndGlyphs">3188 h</text>
<text x="1214" y="473.7" textLength="47" lengthAdjust="spacingAndGlyphs">3188 h</text>
</g>
<rect x="1259.3" y="342.7" width="27.3" height="12.8" fill="#f07f1e"/>
<text x="1273" y="352.8" font-size="10" fill="#fff" text-anchor="middle" letter-spacing="0.5">停止</text>
<rect x="1475.8" y="436.1" width="31.2" height="15.4" fill="#1bb4e2"/>
<text x="1491.4" y="447.8" font-size="11" fill="#fff" text-anchor="middle" letter-spacing="0.5">运行</text>
</g>
<!-- image 6 : emergency running -->
<g id="img6">
<use href="#plB" x="994.4" y="751.6" width="65.7" height="62.0"/><use href="#unit" x="994.4" y="751.6" width="65.7" height="62.0"/>
<use href="#plB" x="1025.4" y="743.5" width="92.2" height="87.0"/><use href="#unit" x="1025.4" y="743.5" width="92.2" height="87.0"/>
<use href="#plR" x="1069.6" y="733.3" width="123.7" height="116.8"/><use href="#unit" x="1069.6" y="733.3" width="123.7" height="116.8"/>
<use href="#plB" x="1176.8" y="718.7" width="187.4" height="177.0"/><use href="#unit" x="1176.8" y="718.7" width="187.4" height="177.0"/>
<use href="#cmpB" transform="translate(1195.5,835.0) scale(1.351,1.347)"/>
<use href="#cmpO" transform="translate(1235.1,841.3) scale(1.393,1.377)"/>
<g font-size="10.7" font-weight="500" stroke="#fff" stroke-width="1.2" stroke-opacity="0.5" paint-order="stroke">
<text x="1007.5" y="829.5" fill="#2a5db0">继续运行</text>
<text x="1174" y="905.1" fill="#2a5db0">继续运行</text>
<text x="1093.8" y="846.5" fill="#f07f1e">故障</text>
<text x="1237" y="913.3" fill="#f07f1e">故障</text>
</g>
</g>
</svg>
</body>
</html>
